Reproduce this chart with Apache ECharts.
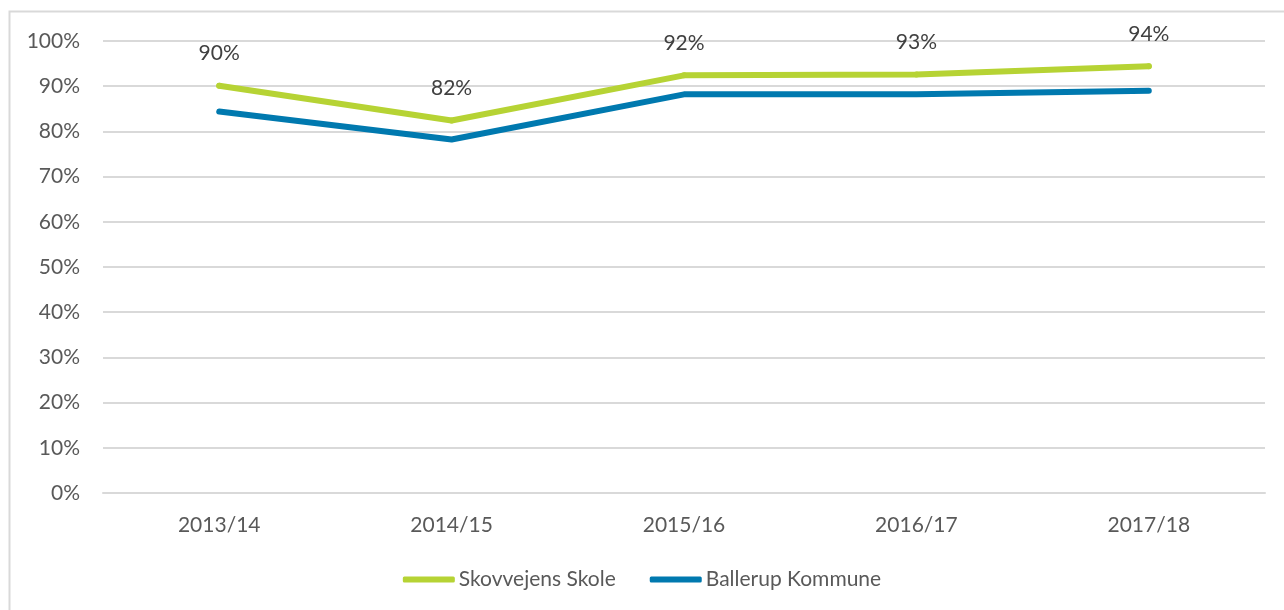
<!DOCTYPE html>
<html>
<head>
<meta charset="utf-8">
<script src="https://cdn.jsdelivr.net/npm/echarts@6/dist/echarts.min.js"></script>
<style>
  html, body { margin: 0; padding: 0; background: #fff; }
  #chart { width: 1284px; height: 610px; }
</style>
</head>
<body>
<div id="chart"></div>
<script>
// skoleår
var years = ['2013/14', '2014/15', '2015/16', '2016/17', '2017/18']
// værdier i procent
var skovvejens = [90.1, 82.4, 92.4, 92.6, 94.4]
var ballerup = [84.4, 78.2, 88.2, 88.2, 89.0]
var yTicks = [0, 10, 20, 30, 40, 50, 60, 70, 80, 90, 100]

var font = 'Lato, "Liberation Sans", sans-serif'
var myChart = echarts.init(document.getElementById('chart'))
var option = {
  animation: false,
  textStyle: { fontFamily: font },
  graphic: [{
    type: 'rect',
    shape: { x: 9.5, y: 11.5, width: 1300, height: 620 },
    style: { fill: 'none', stroke: '#d9d9d9', lineWidth: 2 },
    silent: true
  }],
  legend: {
    top: 564,
    left: 'center',
    icon: 'roundRect',
    itemWidth: 52,
    itemHeight: 6,
    itemGap: 34,
    textStyle: { fontFamily: font, fontSize: 21, color: '#595959', padding: [0, 0, 0, -1] },
    data: ['Skovvejens Skole', 'Ballerup Kommune']
  },
  grid: {
    left: 103,
    right: 19,
    top: 41,
    bottom: 117
  },
  xAxis: {
    type: 'category',
    boundaryGap: true,
    data: years,
    axisLine: { show: true, lineStyle: { color: '#d9d9d9', width: 2 } },
    axisTick: { show: false },
    axisLabel: { color: '#595959', fontSize: 21, margin: 22, fontFamily: font }
  },
  yAxis: {
    type: 'value',
    min: yTicks[0],
    max: yTicks[yTicks.length - 1],
    interval: 10,
    axisLine: { show: false },
    axisTick: { show: false },
    splitLine: { lineStyle: { color: '#d9d9d9', width: 2 } },
    axisLabel: {
      color: '#595959',
      fontSize: 21,
      margin: 23,
      fontFamily: font,
      formatter: function (v) { return v + '%' }
    }
  },
  series: [
    {
      name: 'Skovvejens Skole',
      type: 'line',
      data: skovvejens,
      showSymbol: true,
      symbol: 'circle',
      symbolSize: 6,
      color: '#b6d334',
      itemStyle: { color: '#b6d334' },
      lineStyle: { width: 6, cap: 'round', join: 'round', color: '#b6d334' },
      label: {
        show: true,
        position: 'top',
        distance: 19,
        color: '#404040',
        fontSize: 21,
        fontFamily: font,
        formatter: function (p) { return Math.round(p.value) + '%' }
      },
      z: 3
    },
    {
      name: 'Ballerup Kommune',
      type: 'line',
      data: ballerup,
      showSymbol: false,
      symbol: 'none',
      color: '#0079af',
      lineStyle: { width: 6, cap: 'round', join: 'round' },
      z: 2
    }
  ]
}
myChart.setOption(option)
</script>
</body>
</html>
